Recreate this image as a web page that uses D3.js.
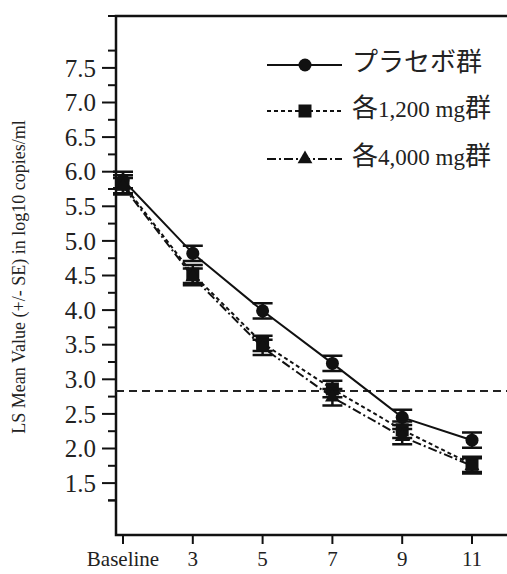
<!DOCTYPE html>
<html>
<head>
<meta charset="utf-8">
<script src="https://cdn.jsdelivr.net/npm/d3@7"></script>
<style>
  body { margin: 0; background: #fff; }
  svg { display: block; }
</style>
</head>
<body>
<script>
// data
const weeks = ["Baseline", "3", "5", "7", "9", "11"];
const placebo = [5.88, 4.82, 3.99, 3.23, 2.45, 2.12];
const placeboSE = [0.12, 0.11, 0.11, 0.11, 0.11, 0.11];
const dose1200 = [5.82, 4.52, 3.52, 2.86, 2.27, 1.77];
const dose1200SE = [0.13, 0.13, 0.11, 0.12, 0.12, 0.11];
const dose4000 = [5.79, 4.48, 3.46, 2.74, 2.17, 1.75];
const dose4000SE = [0.12, 0.12, 0.11, 0.12, 0.11, 0.11];
const seriesNames = ["プラセボ群", "各1,200 mg群", "各4,000 mg群"];
const yTicks = [1.5, 2.0, 2.5, 3.0, 3.5, 4.0, 4.5, 5.0, 5.5, 6.0, 6.5, 7.0, 7.5];
const refLine = 2.83;

const width = 507, height = 574;
const serif = "Liberation Serif, DejaVu Serif, Noto Sans CJK JP, serif";

const svg = d3.select("body").append("svg")
    .attr("width", width)
    .attr("height", height)
    .attr("font-family", serif);

const x = d3.scalePoint().domain(weeks).range([123, 472]);
const y = d3.scaleLinear().domain([0.75, 8.25]).range([535, 16]);
const left = 116;

const series = [
  {name: seriesNames[0], vals: placebo, se: placeboSE, dash: null, shape: "circle"},
  {name: seriesNames[1], vals: dose1200, se: dose1200SE, dash: "4,3", shape: "square"},
  {name: seriesNames[2], vals: dose4000, se: dose4000SE, dash: "9,3,2,3", shape: "triangle"}
];

// frame: left, top, bottom
svg.append("path")
    .attr("d", `M${width},${y(8.25)}H${left}V${y(0.75)}H${width}`)
    .attr("fill", "none")
    .attr("stroke", "#111")
    .attr("stroke-width", 2.5);

// y axis, majors + minors
const yAxis = svg.append("g").attr("transform", `translate(${left},0)`);
yAxis.selectAll("line.major").data(yTicks).join("line")
    .attr("x1", -14).attr("x2", 0)
    .attr("y1", d => y(d)).attr("y2", d => y(d))
    .attr("stroke", "#111").attr("stroke-width", 2);
yAxis.selectAll("line.minor").data(d3.range(1, 8.25, 0.5).map(d => d + 0.25).concat([1.25]))
    .join("line")
    .attr("x1", -8).attr("x2", 0)
    .attr("y1", d => y(d)).attr("y2", d => y(d))
    .attr("stroke", "#111").attr("stroke-width", 2);
yAxis.selectAll("text").data(yTicks).join("text")
    .attr("x", -20).attr("y", d => y(d))
    .attr("dy", "0.35em")
    .attr("text-anchor", "end")
    .attr("font-size", 25)
    .attr("fill", "#222")
    .text(d3.format(".1f"));

// x axis ticks + labels
const xAxis = svg.append("g");
xAxis.selectAll("line").data(weeks).join("line")
    .attr("x1", d => x(d)).attr("x2", d => x(d))
    .attr("y1", y(0.75)).attr("y2", y(0.75) + 9)
    .attr("stroke", "#111").attr("stroke-width", 2);
xAxis.selectAll("text").data(weeks).join("text")
    .attr("x", d => x(d)).attr("y", 566)
    .attr("text-anchor", "middle")
    .attr("font-size", 21)
    .attr("fill", "#222")
    .text(d => d);

// y title
svg.append("text")
    .attr("transform", `translate(25,${277}) rotate(-90)`)
    .attr("text-anchor", "middle")
    .attr("font-size", 18)
    .attr("fill", "#222")
    .text("LS Mean Value (+/- SE) in log10 copies/ml");

// reference line
svg.append("line")
    .attr("x1", left).attr("x2", width)
    .attr("y1", y(refLine)).attr("y2", y(refLine))
    .attr("stroke", "#222").attr("stroke-width", 2)
    .attr("stroke-dasharray", "8,5");

const line = d3.line().x((d, i) => x(weeks[i])).y(d => y(d));

function marker(g, shape) {
  if (shape === "circle") g.append("circle").attr("r", 6.5);
  else if (shape === "square") g.append("rect").attr("x", -6.5).attr("y", -6.5).attr("width", 13).attr("height", 13);
  else g.append("path").attr("d", d3.symbol(d3.symbolTriangle, 95)());
  g.selectAll("*").attr("fill", "#111");
}

series.forEach(s => {
  svg.append("path")
      .datum(s.vals)
      .attr("fill", "none")
      .attr("stroke", "#111")
      .attr("stroke-width", 2)
      .attr("stroke-dasharray", s.dash)
      .attr("d", line);

  const pts = svg.append("g").selectAll("g").data(s.vals).join("g")
      .attr("transform", (d, i) => `translate(${x(weeks[i])},0)`);
  pts.each(function(d, i) {
    const g = d3.select(this);
    const lo = y(d - s.se[i]), hi = y(d + s.se[i]);
    g.append("path")
        .attr("d", `M0,${hi}V${lo}M-10,${hi}H10M-10,${lo}H10`)
        .attr("stroke", "#111").attr("stroke-width", 2.5).attr("fill", "none");
    marker(g.append("g").attr("transform", `translate(0,${y(d)})`), s.shape);
  });
});

// legend: CJK runs a bit larger than the Latin runs
const legend = svg.append("g");
const rows = [65, 111, 159];
series.forEach((s, i) => {
  const r = legend.append("g").attr("transform", `translate(0,${rows[i]})`);
  r.append("line")
      .attr("x1", 267).attr("x2", 342)
      .attr("stroke", "#111").attr("stroke-width", 2)
      .attr("stroke-dasharray", s.dash);
  marker(r.append("g").attr("transform", "translate(305,0)"), s.shape);
  const runs = s.name.match(/[\u3000-\u9fff]+|[^\u3000-\u9fff]+/g);
  r.append("text")
      .attr("x", 352).attr("dy", "0.35em")
      .attr("fill", "#222")
    .selectAll("tspan").data(runs).join("tspan")
      .attr("font-size", d => /[\u3000-\u9fff]/.test(d) ? 26 : 23)
      .text(d => d);
});
</script>
</body>
</html>
